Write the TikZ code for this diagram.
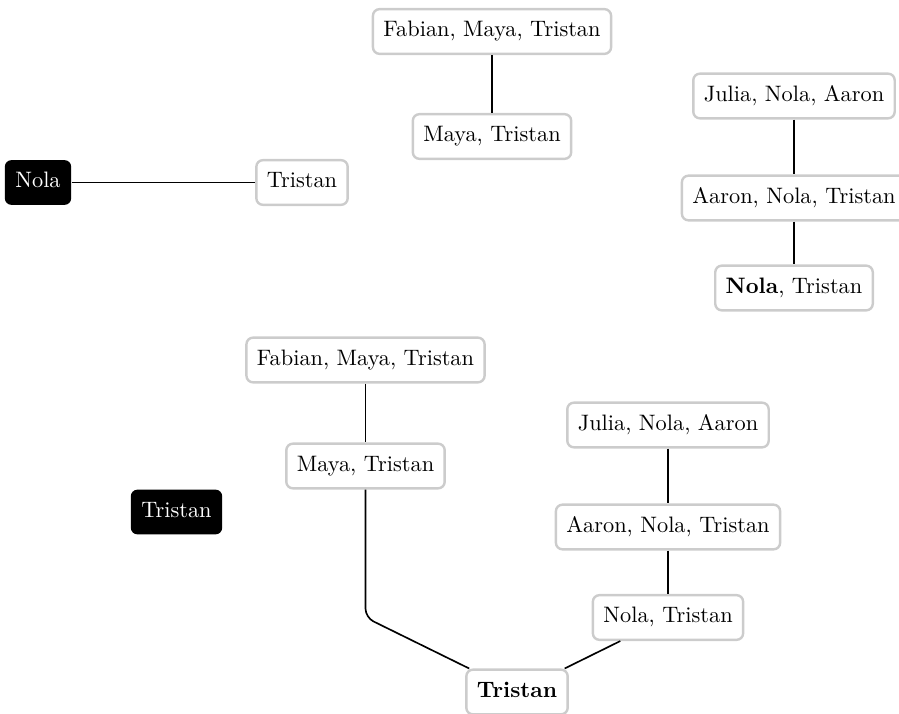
\documentclass[tikz,border=0pt]{standalone}
\usepackage{amsmath,amssymb}
\usepackage{tikz}
\usetikzlibrary{calc}

\tikzset{
  person/.style={rounded corners=3pt, inner xsep=4.8pt, minimum height=20.4pt, text height=6.9pt, text depth=1.9pt, font=\fontsize{10.2}{12}\selectfont},
  setbox/.style={person, draw=black!20, fill=white, line width=1.1pt},
  rootbox/.style={person, fill=black, text=white},
  edge/.style={line width=0.75pt}
}

\begin{document}
\begin{tikzpicture}[x=0.4566pt,y=-0.4566pt]
        \useasboundingbox (0,0) rectangle (899,713);

        % 上の木
        \coordinate (top) at (492,31.5);
        \node[setbox] (fmt1) at (top) {Fabian, Maya, Tristan};
        \node[setbox] (mt1) at ($(top)+(0,105)$) {Maya, Tristan};
        \draw[edge] (fmt1) -- (mt1);

        % Nola
        \node[rootbox] (nola) at (38,182.5) {Nola};
        \node[setbox] (tr1) at (302,182.5) {Tristan};
        \draw[edge] (nola) -- (tr1);

        % 右上の木
        \coordinate (right) at (794,96);
        \node[setbox] (jna1) at (right) {Julia, Nola, Aaron};
        \node[setbox] (ant1) at ($(right)+(0,102)$) {Aaron, Nola, Tristan};
        \node[setbox] (nt1) at ($(right)+(0,192)$) {\textbf{Nola}, Tristan};
        \draw[edge] (jna1) -- (ant1);
        \draw[edge] (ant1) -- (nt1);

        % Tristan
        \node[rootbox] (tristan) at (176.5,512) {Tristan};

        % 下の木 (左)
        \coordinate (left) at (365.5,360);
        \node[setbox] (fmt2) at (left) {Fabian, Maya, Tristan};
        \node[setbox] (mt2) at ($(left)+(0,106)$) {Maya, Tristan};
        \draw[edge] (fmt2) -- (mt2);

        % 下の木 (右)
        \coordinate (right) at (668,425);
        \node[setbox] (jna2) at (right) {Julia, Nola, Aaron};
        \node[setbox] (ant2) at ($(right)+(0,102)$) {Aaron, Nola, Tristan};
        \node[setbox] (nt2) at ($(right)+(0,192.5)$) {Nola, Tristan};
        \draw[edge] (jna2) -- (ant2);
        \draw[edge] (ant2) -- (nt2);

        % 根
        \node[setbox] (tr2) at (517,692) {\textbf{Tristan}};
        \coordinate (bend) at (mt2 |- nt2);
        \draw[edge,rounded corners=4pt] (mt2) -- (bend) -- (tr2);
        \draw[edge] (nt2) -- (tr2);

    \end{tikzpicture}
\end{document}
